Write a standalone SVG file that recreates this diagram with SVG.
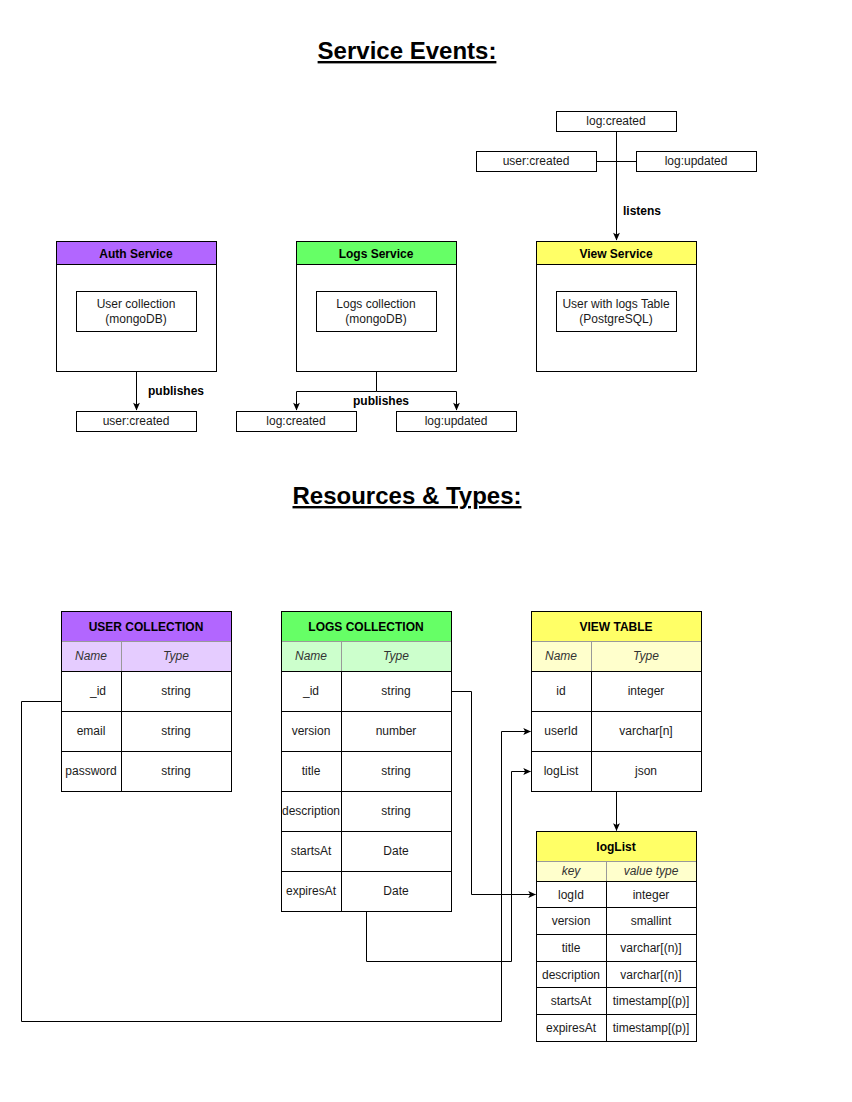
<svg xmlns="http://www.w3.org/2000/svg" width="852" height="1102" viewBox="0 0 852 1102">
<style>
text{font-family:"Liberation Sans",Arial,sans-serif;font-size:12px;fill:#1a1a1a}
.c{text-anchor:middle}
.b{font-weight:bold;fill:#000}
.i{font-style:italic;fill:#333}
.t{font-size:24px;font-weight:bold;text-decoration:underline;fill:#000;text-anchor:middle}
.box{fill:#fff;stroke:#000;stroke-width:1}
.ln{fill:none;stroke:#000;stroke-width:1}
.sub{stroke:#999;stroke-width:1}
</style>
<defs>
<marker id="arr" viewBox="0 0 10 10" refX="9" refY="5" markerWidth="9" markerHeight="9" markerUnits="userSpaceOnUse" orient="auto">
<path d="M1,1.2 L9.5,5 L1,8.8 L3,5 Z" fill="#000"/>
</marker>
</defs>
<rect width="852" height="1102" fill="#fff"/>

<text class="t" x="407" y="59">Service Events:</text>
<text class="t" x="407" y="504">Resources &amp; Types:</text>

<g id="connectors">
<path class="ln" d="M616.5,131.5 V240" marker-end="url(#arr)"/>
<path class="ln" d="M596.5,161.5 H636.5"/>
<text class="b" x="623" y="215">listens</text>
<path class="ln" d="M136.5,371.5 V410" marker-end="url(#arr)"/>
<text class="b" x="148" y="395">publishes</text>
<path class="ln" d="M376.5,371.5 V391.5 H296.5 V410" marker-end="url(#arr)"/>
<path class="ln" d="M376.5,391.5 H456.5 V410" marker-end="url(#arr)"/>
<text class="b c" x="381" y="405">publishes</text>
<path class="ln" d="M451.5,691.5 H471.5 V894.5 H535.5" marker-end="url(#arr)"/>
<path class="ln" d="M366.5,911.5 V961.5 H511.5 V771.5 H530.5" marker-end="url(#arr)"/>
<path class="ln" d="M61.5,701.5 H21.5 V1021.5 H501.5 V731.5 H530.5" marker-end="url(#arr)"/>
<path class="ln" d="M616.5,791.5 V830.5" marker-end="url(#arr)"/>
</g>

<g id="ev-log-created-top">
<rect class="box" x="556.5" y="111.5" width="120" height="20"/>
<text class="c" x="616" y="125">log:created</text>
</g>
<g id="ev-user-created-top">
<rect class="box" x="476.5" y="151.5" width="120" height="20"/>
<text class="c" x="536" y="165">user:created</text>
</g>
<g id="ev-log-updated-top">
<rect class="box" x="636.5" y="151.5" width="120" height="20"/>
<text class="c" x="696" y="165">log:updated</text>
</g>

<g id="auth-service">
<rect class="box" x="56.5" y="241.5" width="160" height="130"/>
<rect x="56.5" y="241.5" width="160" height="23" fill="#B266FF" stroke="#000"/>
<text class="b c" x="136" y="258">Auth Service</text>
<rect class="box" x="76.5" y="291.5" width="120" height="40"/>
<text class="c" x="136" y="308">User collection</text>
<text class="c" x="136" y="323">(mongoDB)</text>
</g>
<g id="logs-service">
<rect class="box" x="296.5" y="241.5" width="160" height="130"/>
<rect x="296.5" y="241.5" width="160" height="23" fill="#66FF66" stroke="#000"/>
<text class="b c" x="376" y="258">Logs Service</text>
<rect class="box" x="316.5" y="291.5" width="120" height="40"/>
<text class="c" x="376" y="308">Logs collection</text>
<text class="c" x="376" y="323">(mongoDB)</text>
</g>
<g id="view-service">
<rect class="box" x="536.5" y="241.5" width="160" height="130"/>
<rect x="536.5" y="241.5" width="160" height="23" fill="#FFFF66" stroke="#000"/>
<text class="b c" x="616" y="258">View Service</text>
<rect class="box" x="556.5" y="291.5" width="120" height="40"/>
<text class="c" x="616" y="308">User with logs Table</text>
<text class="c" x="616" y="323">(PostgreSQL)</text>
</g>

<g id="ev-user-created">
<rect class="box" x="76.5" y="411.5" width="120" height="20"/>
<text class="c" x="136" y="425">user:created</text>
</g>
<g id="ev-log-created">
<rect class="box" x="236.5" y="411.5" width="120" height="20"/>
<text class="c" x="296" y="425">log:created</text>
</g>
<g id="ev-log-updated">
<rect class="box" x="396.5" y="411.5" width="120" height="20"/>
<text class="c" x="456" y="425">log:updated</text>
</g>

<g id="user-collection">
<rect class="box" x="61.5" y="611.5" width="170" height="180"/>
<rect x="61.5" y="611.5" width="170" height="30" fill="#B266FF" stroke="#000"/>
<rect x="61.5" y="641.5" width="170" height="30" fill="#E5CCFF" class="sub"/>
<line class="sub" x1="121.5" y1="641.5" x2="121.5" y2="671.5"/>
<path class="ln" d="M121.5,671.5 V791.5 M61.5,671.5 H231.5 M61.5,711.5 H231.5 M61.5,751.5 H231.5"/>
<rect x="61.5" y="611.5" width="170" height="180" fill="none" stroke="#000"/>
<text class="b c" x="146" y="631">USER COLLECTION</text>
<text class="i c" x="91" y="660">Name</text>
<text class="i c" x="176" y="660">Type</text>
<text class="c" x="98" y="695">_id</text><text class="c" x="176" y="695">string</text>
<text class="c" x="91" y="735">email</text><text class="c" x="176" y="735">string</text>
<text class="c" x="91" y="775">password</text><text class="c" x="176" y="775">string</text>
</g>

<g id="logs-collection">
<rect class="box" x="281.5" y="611.5" width="170" height="300"/>
<rect x="281.5" y="611.5" width="170" height="30" fill="#66FF66" stroke="#000"/>
<rect x="281.5" y="641.5" width="170" height="30" fill="#CCFFCC" class="sub"/>
<line class="sub" x1="341.5" y1="641.5" x2="341.5" y2="671.5"/>
<path class="ln" d="M341.5,671.5 V911.5 M281.5,671.5 H451.5 M281.5,711.5 H451.5 M281.5,751.5 H451.5 M281.5,791.5 H451.5 M281.5,831.5 H451.5 M281.5,871.5 H451.5"/>
<rect x="281.5" y="611.5" width="170" height="300" fill="none" stroke="#000"/>
<text class="b c" x="366" y="631">LOGS COLLECTION</text>
<text class="i c" x="311" y="660">Name</text>
<text class="i c" x="396" y="660">Type</text>
<text class="c" x="311" y="695">_id</text><text class="c" x="396" y="695">string</text>
<text class="c" x="311" y="735">version</text><text class="c" x="396" y="735">number</text>
<text class="c" x="311" y="775">title</text><text class="c" x="396" y="775">string</text>
<text class="c" x="311" y="815">description</text><text class="c" x="396" y="815">string</text>
<text class="c" x="311" y="855">startsAt</text><text class="c" x="396" y="855">Date</text>
<text class="c" x="311" y="895">expiresAt</text><text class="c" x="396" y="895">Date</text>
</g>

<g id="view-table">
<rect class="box" x="531.5" y="611.5" width="170" height="180"/>
<rect x="531.5" y="611.5" width="170" height="30" fill="#FFFF66" stroke="#000"/>
<rect x="531.5" y="641.5" width="170" height="30" fill="#FFFFCC" class="sub"/>
<line class="sub" x1="591.5" y1="641.5" x2="591.5" y2="671.5"/>
<path class="ln" d="M591.5,671.5 V791.5 M531.5,671.5 H701.5 M531.5,711.5 H701.5 M531.5,751.5 H701.5"/>
<rect x="531.5" y="611.5" width="170" height="180" fill="none" stroke="#000"/>
<text class="b c" x="616" y="631">VIEW TABLE</text>
<text class="i c" x="561" y="660">Name</text>
<text class="i c" x="646" y="660">Type</text>
<text class="c" x="561" y="695">id</text><text class="c" x="646" y="695">integer</text>
<text class="c" x="561" y="735">userId</text><text class="c" x="646" y="735">varchar[n]</text>
<text class="c" x="561" y="775">logList</text><text class="c" x="646" y="775">json</text>
</g>

<g id="loglist">
<rect class="box" x="536.5" y="831.5" width="160" height="210"/>
<rect x="536.5" y="831.5" width="160" height="30" fill="#FFFF66" stroke="#000"/>
<rect x="536.5" y="861.5" width="160" height="20" fill="#FFFFCC" class="sub"/>
<line class="sub" x1="606.5" y1="861.5" x2="606.5" y2="881.5"/>
<path class="ln" d="M606.5,881.5 V1041.5 M536.5,881.5 H696.5 M536.5,907.5 H696.5 M536.5,934.5 H696.5 M536.5,961.5 H696.5 M536.5,987.5 H696.5 M536.5,1014.5 H696.5"/>
<rect x="536.5" y="831.5" width="160" height="210" fill="none" stroke="#000"/>
<text class="b c" x="616" y="851">logList</text>
<text class="i c" x="571" y="875">key</text>
<text class="i c" x="651" y="875">value type</text>
<text class="c" x="571" y="899">logId</text><text class="c" x="651" y="899">integer</text>
<text class="c" x="571" y="925">version</text><text class="c" x="651" y="925">smallint</text>
<text class="c" x="571" y="952">title</text><text class="c" x="651" y="952">varchar[(n)]</text>
<text class="c" x="571" y="979">description</text><text class="c" x="651" y="979">varchar[(n)]</text>
<text class="c" x="571" y="1005">startsAt</text><text class="c" x="651" y="1005">timestamp[(p)]</text>
<text class="c" x="571" y="1032">expiresAt</text><text class="c" x="651" y="1032">timestamp[(p)]</text>
</g>
</svg>
